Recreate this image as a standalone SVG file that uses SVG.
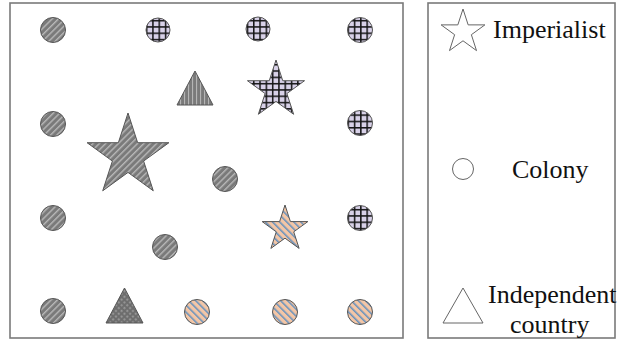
<svg xmlns="http://www.w3.org/2000/svg" width="619" height="342" viewBox="0 0 619 342">
<defs>
<pattern id="hatchGray" patternUnits="userSpaceOnUse" width="4.5" height="4.5" patternTransform="rotate(45)">
<rect width="4.5" height="4.5" fill="#7a7a7a"/>
<rect x="0" y="0" width="1.4" height="4.5" fill="#b8b8b8"/>
</pattern>
<pattern id="gridLav" patternUnits="userSpaceOnUse" width="6.3" height="6.3" x="1" y="1">
<rect width="6.3" height="6.3" fill="#d8d1e8"/>
<rect x="0" y="0" width="1.5" height="6.3" fill="#151515"/>
<rect x="0" y="0" width="6.3" height="1.5" fill="#151515"/>
</pattern>
<pattern id="orangeBlue" patternUnits="userSpaceOnUse" width="5" height="5" patternTransform="rotate(-45)">
<rect width="5" height="5" fill="#f4c6a6"/>
<rect x="0" y="0" width="1.5" height="5" fill="#5f8fbf"/>
</pattern>
<pattern id="vertGray" patternUnits="userSpaceOnUse" width="4" height="4">
<rect width="4" height="4" fill="#7a7a7a"/>
<rect x="0" y="0" width="1.1" height="4" fill="#b5b5b5"/>
</pattern>
<pattern id="checkGray" patternUnits="userSpaceOnUse" width="4" height="4" patternTransform="rotate(45)">
<rect width="4" height="4" fill="#6c6c6c"/>
<rect x="0.8" y="0.8" width="2" height="2" fill="#9a9a9a"/>
</pattern>
</defs>
<style>
.frame{fill:#fff;stroke:#7a7a7a;stroke-width:1.6}
.c{stroke:#555;stroke-width:1}
.g{fill:url(#hatchGray)}
.l{fill:url(#gridLav)}
.o{fill:url(#orangeBlue)}
.leg{fill:none;stroke:#666;stroke-width:1}
.t{font-family:"Liberation Serif","Times New Roman",serif;font-size:26px;fill:#111}
</style>
<rect class="frame" x="10" y="3" width="393" height="335"/>
<rect class="frame" x="428" y="3" width="187" height="335"/>

<g id="colony-g1"><circle class="c g" cx="53" cy="30" r="12.5"/></g>
<g id="colony-g2"><circle class="c g" cx="53" cy="124" r="12.5"/></g>
<g id="colony-g3"><circle class="c g" cx="53" cy="218" r="12.5"/></g>
<g id="colony-g4"><circle class="c g" cx="53" cy="311" r="12.5"/></g>
<g id="colony-g5"><circle class="c g" cx="225" cy="179" r="12.5"/></g>
<g id="colony-g6"><circle class="c g" cx="165" cy="247" r="12.5"/></g>

<g id="colony-l1"><circle class="c l" cx="158" cy="30" r="12"/></g>
<g id="colony-l2"><circle class="c l" cx="258" cy="29" r="12"/></g>
<g id="colony-l3"><circle class="c l" cx="360" cy="30" r="12.5"/></g>
<g id="colony-l4"><circle class="c l" cx="360" cy="123" r="12.5"/></g>
<g id="colony-l5"><circle class="c l" cx="360" cy="218" r="12.5"/></g>

<g id="colony-o1"><circle class="c o" cx="197" cy="312" r="12.5"/></g>
<g id="colony-o2"><circle class="c o" cx="285" cy="312" r="12.5"/></g>
<g id="colony-o3"><circle class="c o" cx="360" cy="312" r="12.5"/></g>

<g id="imperialist-big"><polygon class="c g" points="128,113 137.65,142.71 168.9,142.71 143.62,161.07 153.28,190.79 128,172.43 102.72,190.79 112.38,161.07 87.1,142.71 118.35,142.71"/></g>
<g id="imperialist-grid"><polygon class="c l" points="276,60 282.74,80.73 304.53,80.73 286.9,93.54 293.63,114.27 276,101.46 258.37,114.27 265.1,93.54 247.47,80.73 269.26,80.73"/></g>
<g id="imperialist-orange"><polygon class="c o" points="285,205 290.39,221.58 307.83,221.58 293.72,231.83 299.11,248.42 285,238.17 270.89,248.42 276.28,231.83 262.17,221.58 279.61,221.58"/></g>

<g id="independent-1"><polygon class="c" fill="url(#vertGray)" points="195,71 213,105 177,105"/></g>
<g id="independent-2"><polygon class="c" fill="url(#checkGray)" points="124.5,288 143,323 106,323"/></g>

<g id="legend-imperialist">
<polygon class="leg" points="463,9 468.16,24.89 484.88,24.89 471.36,34.71 476.52,50.61 463,40.79 449.48,50.61 454.64,34.71 441.12,24.89 457.84,24.89"/>
<text class="t" x="493" y="38">Imperialist</text>
</g>
<g id="legend-colony">
<circle class="leg" cx="463" cy="169" r="10.5"/>
<text class="t" x="512" y="178">Colony</text>
</g>
<g id="legend-independent">
<polygon class="leg" points="463,288 483,323 443,323"/>
<text class="t" x="488" y="303">Independent</text>
<text class="t" x="510" y="333">country</text>
</g>
</svg>
